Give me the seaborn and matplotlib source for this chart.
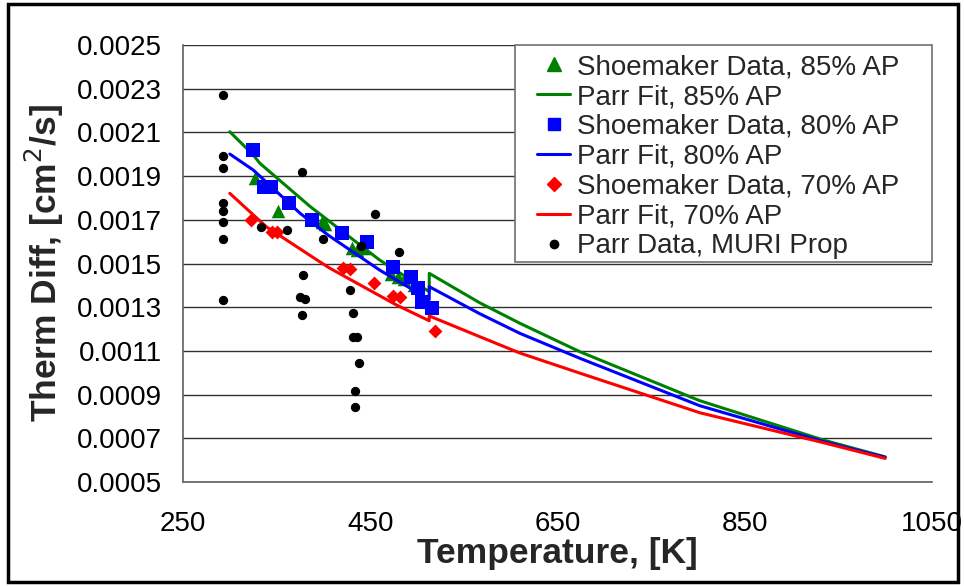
import matplotlib
matplotlib.use("Agg")
import matplotlib.pyplot as plt
import seaborn as sns
import pandas as pd
from matplotlib.patches import Rectangle
from matplotlib.lines import Line2D

# ---------------- data ----------------
# Shoemaker data, 85% AP (green triangles)
shoe85_T = [327, 351, 398, 402, 430, 436, 443, 472, 480, 486, 497]
shoe85_D = [0.00189, 0.00174, 0.00169, 0.00168, 0.00157, 0.00156, 0.00157,
            0.00145, 0.00144, 0.00143, 0.00140]

# Shoemaker data, 80% AP (blue squares)
shoe80_T = [325, 336, 344, 363, 387.5, 420, 446.5, 474, 493, 501.5, 505, 515.5]
shoe80_D = [0.002019, 0.001849, 0.001849, 0.001778, 0.001699, 0.001641, 0.00160,
            0.001483, 0.00144, 0.001386, 0.001325, 0.001295]

# Shoemaker data, 70% AP (red diamonds)
shoe70_T = [323, 345, 350, 421, 428, 454, 474, 482, 519]
shoe70_D = [0.001699, 0.001646, 0.001646, 0.001478, 0.001474, 0.001412,
            0.001351, 0.001345, 0.001192]

# Parr fits (lines, with the phase-transition jump near 513 K)
fit85_T = [300, 325, 332, 386, 400, 432, 460, 513, 513, 567, 610, 674, 802, 934, 1000]
fit85_D = [0.002103, 0.001997, 0.001959, 0.001760, 0.001714, 0.001608, 0.001516,
           0.001371, 0.001455, 0.001320, 0.001226, 0.001096, 0.000872, 0.000692, 0.000615]

fit80_T = [300, 325, 375, 405, 460, 508, 513, 513, 567, 610, 674, 802, 934, 1000]
fit80_D = [0.002001, 0.001928, 0.001730, 0.001630, 0.001470, 0.001348, 0.001335,
           0.001394, 0.001270, 0.001180, 0.001066, 0.000849, 0.000685, 0.000613]

fit70_T = [300, 339, 396, 407, 478, 513, 513, 567, 610, 674, 802, 934, 1000]
fit70_D = [0.001821, 0.001668, 0.001508, 0.001478, 0.001310, 0.001238,
           0.001260, 0.001165, 0.001090, 0.000998, 0.000817, 0.000680, 0.000608]

# Parr data, MURI propellant (black dots)
parr_T = [293, 293, 293, 293, 293, 293, 293, 293,
          333, 361.5, 377.5, 400, 378.5, 375, 380, 376.8,
          440, 455, 481, 428.4, 431.3, 432, 436, 438.4, 434, 434]
parr_D = [0.002271, 0.001992, 0.001936, 0.001778, 0.001740, 0.001689, 0.001612, 0.001333,
          0.001667, 0.001652, 0.001917, 0.001612, 0.001447, 0.001345, 0.001336, 0.001264,
          0.001582, 0.001725, 0.001551, 0.001379, 0.001275, 0.001162, 0.001162, 0.001043,
          0.000918, 0.000845]

x_ticks = [250, 450, 650, 850, 1050]
y_ticks = [0.0005, 0.0007, 0.0009, 0.0011, 0.0013, 0.0015, 0.0017, 0.0019, 0.0021, 0.0023, 0.0025]

labels = ["Shoemaker Data, 85% AP", "Parr Fit, 85% AP",
          "Shoemaker Data, 80% AP", "Parr Fit, 80% AP",
          "Shoemaker Data, 70% AP", "Parr Fit, 70% AP",
          "Parr Data, MURI Prop"]

# ---------------- figure ----------------
sns.set_theme(style="white")
plt.rcParams["font.family"] = ["Liberation Sans", "DejaVu Sans"]

W, H = 964, 586
fig = plt.figure(figsize=(W / 100, H / 100), dpi=100)
ax = fig.add_axes([183 / W, 1 - 482 / H, (932 - 183) / W, (482 - 45) / H])

GREEN, BLUE, RED = "#008000", "#0000FF", "#FF0000"

df85 = pd.DataFrame({"T": shoe85_T, "D": shoe85_D})
df80 = pd.DataFrame({"T": shoe80_T, "D": shoe80_D})
df70 = pd.DataFrame({"T": shoe70_T, "D": shoe70_D})
f85 = pd.DataFrame({"T": fit85_T, "D": fit85_D})
f80 = pd.DataFrame({"T": fit80_T, "D": fit80_D})
f70 = pd.DataFrame({"T": fit70_T, "D": fit70_D})
dfp = pd.DataFrame({"T": parr_T, "D": parr_D})

lw = 2.2
sns.scatterplot(data=df85, x="T", y="D", marker="^", s=95, color=GREEN,
                linewidth=0, ax=ax, zorder=3, legend=False)
sns.lineplot(data=f85, x="T", y="D", sort=False, estimator=None, color=GREEN,
             lw=lw, ax=ax, zorder=3, legend=False)
sns.scatterplot(data=df80, x="T", y="D", marker="s", s=100, color=BLUE,
                linewidth=0, ax=ax, zorder=3, legend=False)
sns.lineplot(data=f80, x="T", y="D", sort=False, estimator=None, color=BLUE,
             lw=lw, ax=ax, zorder=3, legend=False)
sns.scatterplot(data=df70, x="T", y="D", marker="D", s=50, color=RED,
                linewidth=0, ax=ax, zorder=3, legend=False)
sns.lineplot(data=f70, x="T", y="D", sort=False, estimator=None, color=RED,
             lw=lw, ax=ax, zorder=3, legend=False)
sns.scatterplot(data=dfp, x="T", y="D", marker="o", s=45, color="black",
                linewidth=0, ax=ax, zorder=4, legend=False)

ax.set_xlim(250, 1050)
ax.set_ylim(0.0005, 0.0025)
ax.set_xticks(x_ticks)
ax.set_yticks(y_ticks)
ax.set_xticklabels([str(t) for t in x_ticks], fontsize=20)
ax.set_yticklabels([f"{t:.4f}" for t in y_ticks], fontsize=20)
ax.grid(axis="y", color="#303030", linewidth=1.0, zorder=0)
ax.set_axisbelow(True)
for s in ["top", "right"]:
    ax.spines[s].set_visible(False)
for s in ["left", "bottom"]:
    ax.spines[s].set_color("#606060")
    ax.spines[s].set_linewidth(1.2)
ax.tick_params(axis="both", direction="out", length=7, width=1, color="#404040",
               pad=8, labelcolor="black")
ax.tick_params(axis="x", pad=14)

ax.set_xlabel("Temperature, [K]", fontsize=25.5, fontweight="bold", labelpad=0)
ax.set_ylabel("Therm Diff, [cm$^2$/s]", fontsize=25.5, fontweight="bold", labelpad=8)

# legend frame (drawn separately so its padding matches the reference)
frame = Rectangle((515 / W, 1 - 262 / H), (932 - 515) / W, (262 - 45) / H,
                  transform=fig.transFigure, facecolor="white", edgecolor="#707070",
                  linewidth=1.2, zorder=5)
ax.add_artist(frame)
frame.set_clip_on(False)

handles = [
    Line2D([], [], marker="^", color=GREEN, ls="none", markersize=10),
    Line2D([], [], color=GREEN, lw=lw),
    Line2D([], [], marker="s", color=BLUE, ls="none", markersize=9),
    Line2D([], [], color=BLUE, lw=lw),
    Line2D([], [], marker="D", color=RED, ls="none", markersize=7),
    Line2D([], [], color=RED, lw=lw),
    Line2D([], [], marker="o", color="black", ls="none", markersize=6),
]
leg = ax.legend(handles, labels, loc="upper left",
                bbox_to_anchor=((537 - 11) / W, 1 - 43 / H),
                bbox_transform=fig.transFigure,
                borderaxespad=0, fontsize=20, frameon=False,
                labelspacing=0.14, handlelength=1.2, handletextpad=0.25,
                borderpad=0.4)
leg.set_zorder(6)

fig.patches.append(Rectangle((0.008, 0.006), 0.986, 0.988, transform=fig.transFigure,
                             fill=False, edgecolor="black", linewidth=2.5))

fig.savefig("out.png", dpi=100)
